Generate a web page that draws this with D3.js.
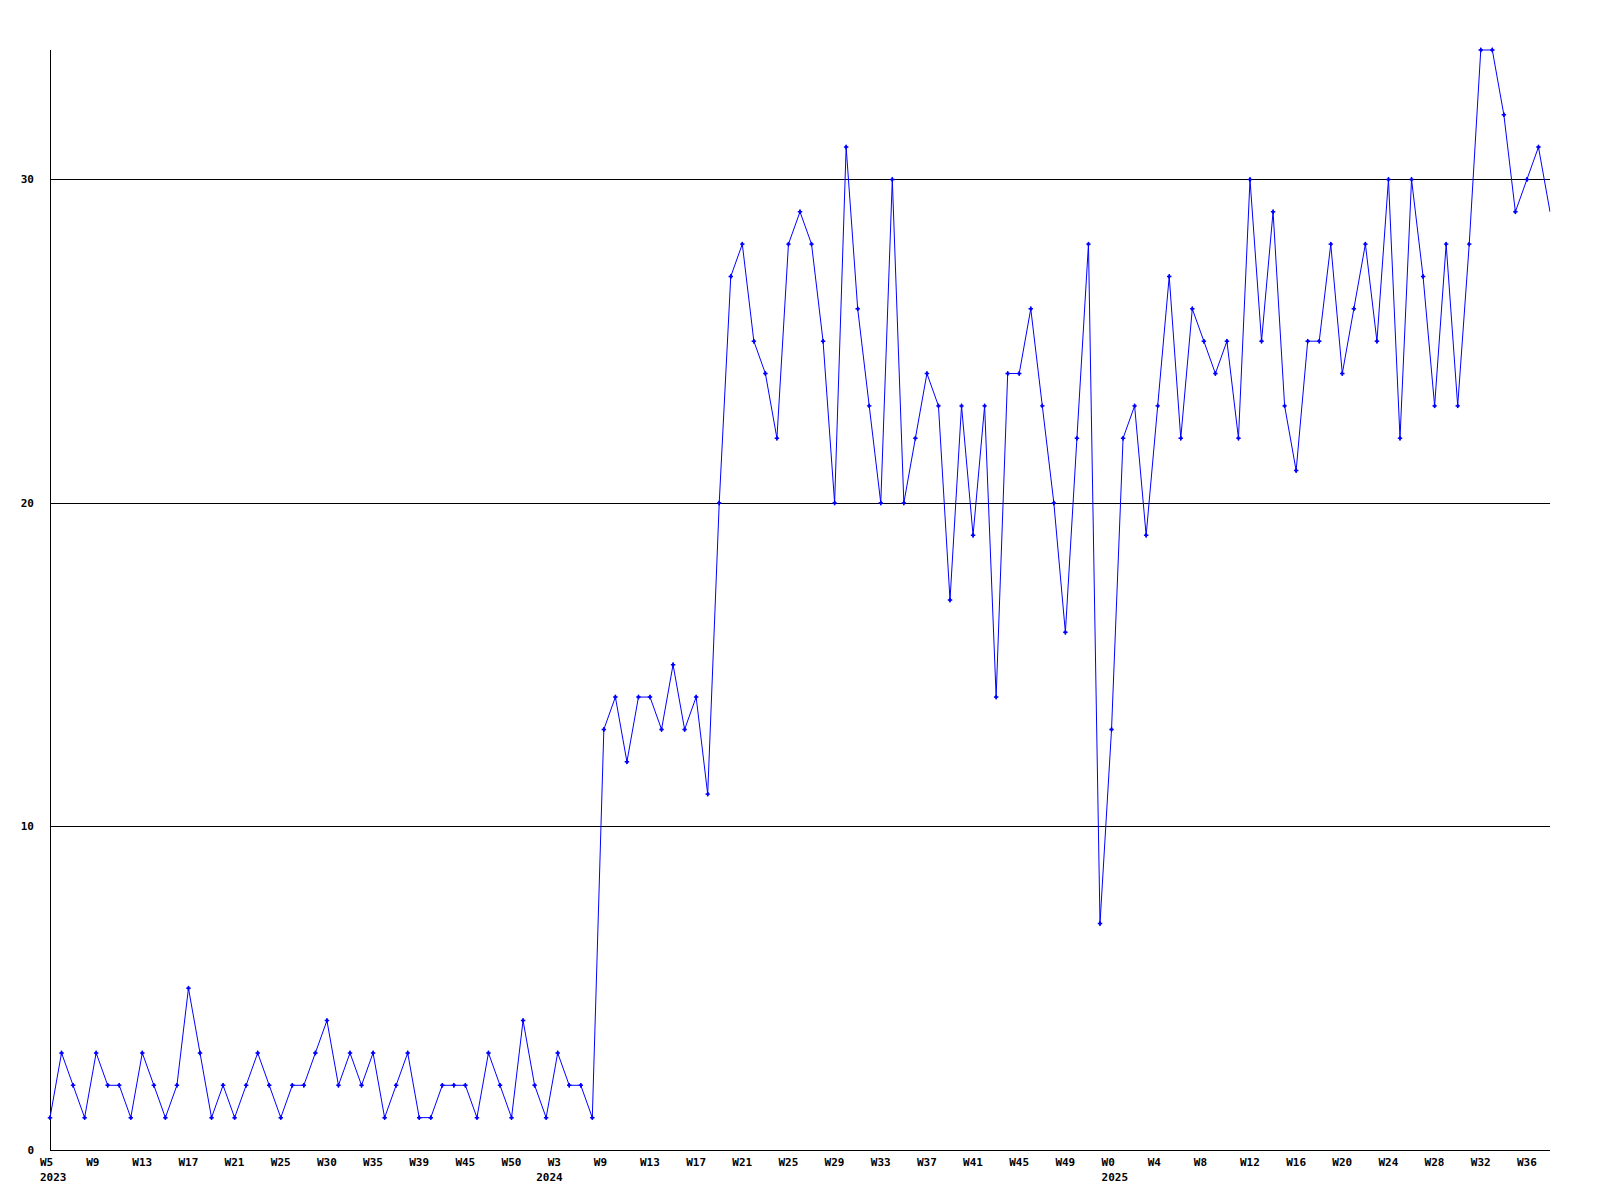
<!DOCTYPE html>
<html>
<head>
<meta charset="utf-8">
<script src="https://cdn.jsdelivr.net/npm/d3@7"></script>
<style>
  html, body { margin: 0; padding: 0; background: #ffffff; }
  svg { display: block; }
  text { font-family: "DejaVu Sans Mono", "Liberation Mono", monospace; font-weight: bold; font-size: 11px; fill: #000; }
</style>
</head>
<body>
<svg id="chart" width="1600" height="1200"></svg>
<script>
// ---- Data ----
const years = ["2023", "2024", "2025"];

const weeks2023 = ["W5","W6","W7","W8","W9","W10","W11","W12","W13","W14","W15","W16","W17","W18","W19","W20","W21","W22","W23","W24","W25",
  "W26","W27","W29","W30","W31","W32","W33","W35","W36","W37","W38","W39","W40","W42","W43","W45","W46","W47","W48","W50","W51","W52"];
const values2023 = [1,3,2,1,3,2,2,1,3,2,1,2,5,3,1,2,1,2,3,2,1,2,2,3,4,2,3,2,3,1,2,3,1,1,2,2,2,1,3,2,1,4,2];

const weeks2024 = ["W2","W3","W5","W6","W8","W9","W10","W11","W12","W13","W14","W15","W16","W17","W18","W19","W20","W21","W22","W23","W24",
  "W25","W26","W27","W28","W29","W30","W31","W32","W33","W34","W35","W36","W37","W38","W39","W40","W41","W42","W43","W44","W45","W46",
  "W47","W48","W49","W50","W51","W52"];
const values2024 = [1,3,2,2,1,13,14,12,14,14,13,15,13,14,11,20,27,28,25,24,22,28,29,28,25,20,31,26,23,20,30,20,22,24,23,17,23,19,23,14,24,24,26,23,20,16,22,28,7];

const weeks2025 = ["W0","W1","W2","W3","W4","W5","W6","W7","W8","W9","W10","W11","W12","W13","W14","W15","W16","W17","W18","W19","W20",
  "W21","W22","W23","W24","W25","W26","W27","W28","W29","W30","W31","W32","W33","W34","W35","W36","W37","W38"];
const values2025 = [13,22,23,19,23,27,22,26,25,24,25,22,30,25,29,23,21,25,25,28,24,26,28,25,30,22,30,27,23,28,23,28,34,34,32,29,30,31,29];

const yTicks = [0, 10, 20, 30];
const yMax = 34;
const tickEvery = 4;

// ---- Build table ----
const weekLists = [weeks2023, weeks2024, weeks2025];
const valueLists = [values2023, values2024, values2025];
const data = [];
weekLists.forEach((wl, yi) => {
  wl.forEach((w, k) => data.push({ year: years[yi], week: w, value: valueLists[yi][k], first: k === 0 }));
});
data.forEach((d, i) => d.i = i);

// ---- Layout ----
const pLeft = 50, pRight = 1550, pTop = 50, pBottom = 1150;
const svg = d3.select("#chart");

const x = d3.scalePoint().domain(data.map(d => d.i)).range([pLeft, pRight]);
const y = d3.scaleLinear().domain([0, yMax]).range([pBottom, pTop]);

// grid lines
svg.append("g").selectAll("line").data(yTicks.filter(t => t > 0)).join("line")
  .attr("x1", pLeft).attr("x2", pRight)
  .attr("y1", d => Math.round(y(d)) + 0.5).attr("y2", d => Math.round(y(d)) + 0.5)
  .attr("stroke", "#000").attr("stroke-width", 1).attr("shape-rendering", "crispEdges");

// axes lines
svg.append("line").attr("x1", pLeft + 0.5).attr("x2", pLeft + 0.5).attr("y1", pTop).attr("y2", pBottom + 0.5)
  .attr("stroke", "#000").attr("shape-rendering", "crispEdges");
svg.append("line").attr("x1", pLeft).attr("x2", pRight).attr("y1", pBottom + 0.5).attr("y2", pBottom + 0.5)
  .attr("stroke", "#000").attr("shape-rendering", "crispEdges");

// y labels
svg.append("g").selectAll("text").data(yTicks).join("text")
  .attr("x", 34).attr("y", d => y(d) + 4)
  .attr("text-anchor", "end")
  .text(d => d);

// x week labels
svg.append("g").selectAll("text").data(data.filter(d => d.i % tickEvery === 0)).join("text")
  .attr("x", d => x(d.i) - 10).attr("y", 1166)
  .attr("text-anchor", "start")
  .text(d => d.week);

// x year labels
svg.append("g").selectAll("text").data(data.filter(d => d.first)).join("text")
  .attr("x", d => x(d.i) - 10).attr("y", 1181)
  .attr("text-anchor", "start")
  .text(d => d.year);

// clips for plot
const defs = svg.append("defs");
defs.append("clipPath").attr("id", "lineclip")
  .append("rect").attr("x", pLeft - 5).attr("y", pTop - 5).attr("width", pRight - pLeft + 5.5).attr("height", pBottom - pTop + 10);
defs.append("clipPath").attr("id", "markclip")
  .append("rect").attr("x", pLeft - 5).attr("y", pTop - 5).attr("width", pRight - pLeft + 2).attr("height", pBottom - pTop + 10);

const line = d3.line().x(d => x(d.i)).y(d => y(d.value));
svg.append("g").attr("clip-path", "url(#lineclip)")
  .append("path").datum(data).attr("d", line)
  .attr("fill", "none").attr("stroke", "#0000ff").attr("stroke-width", 1);

const marker = svg.append("g").attr("clip-path", "url(#markclip)")
  .selectAll("g").data(data.filter(d => x(d.i) < pRight - 1)).join("g")
  .attr("transform", d => `translate(${x(d.i)},${y(d.value)})`);
marker.append("path").attr("d", d3.symbol(d3.symbolCross, 11)()).attr("fill", "#0000ff");
marker.append("path").attr("d", d3.symbol(d3.symbolDiamond, 8)()).attr("fill", "#0000ff");
</script>
</body>
</html>
